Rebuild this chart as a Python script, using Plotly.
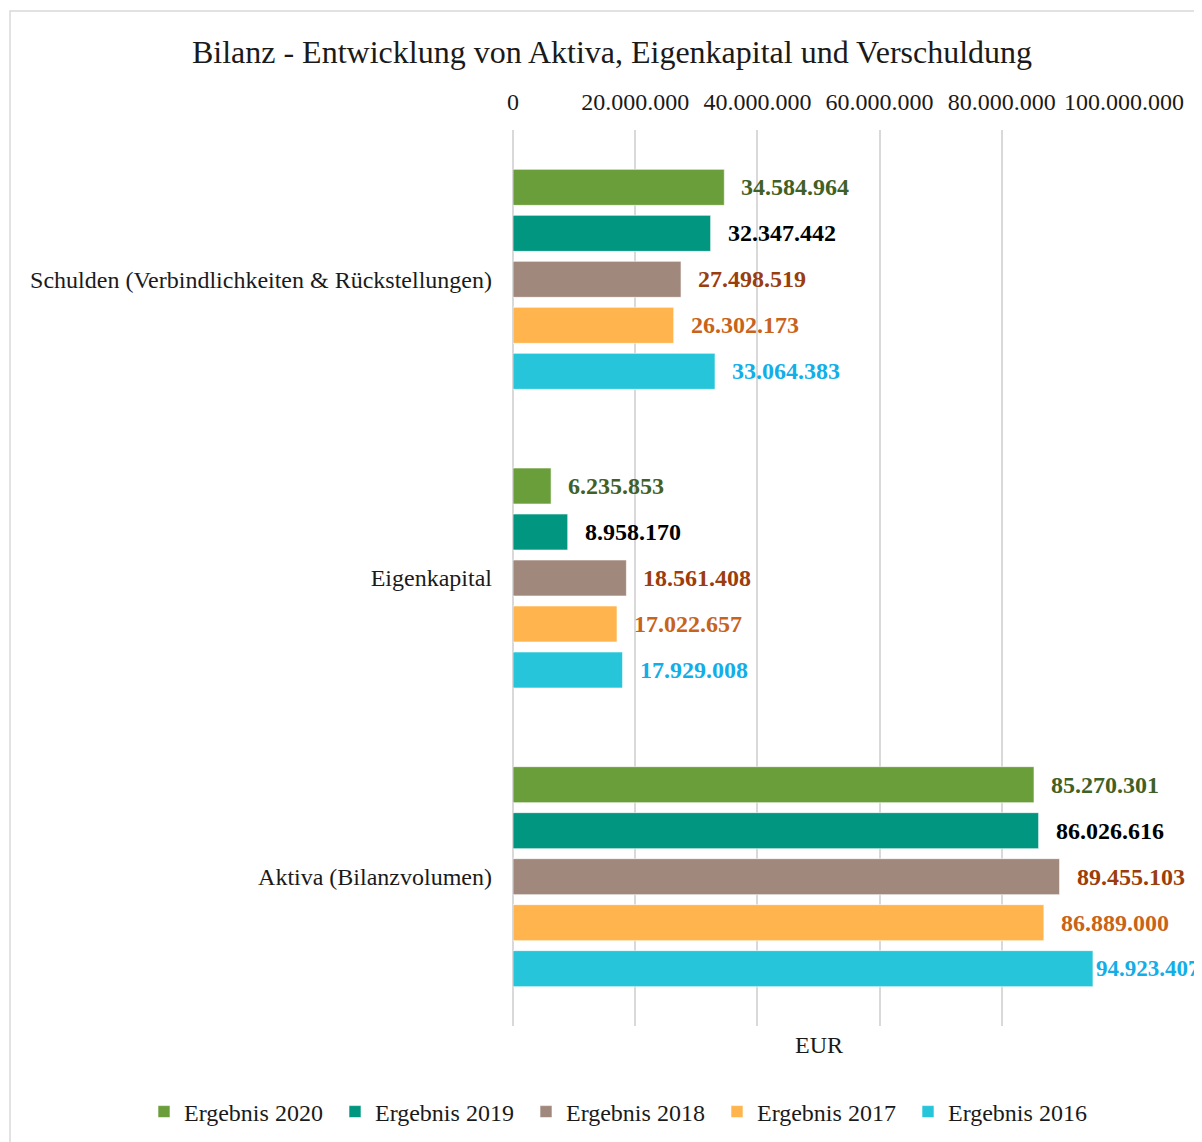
import plotly.graph_objects as go

categories = ["Schulden (Verbindlichkeiten & Rückstellungen)", "Eigenkapital", "Aktiva (Bilanzvolumen)"]
series_names = ["Ergebnis 2020", "Ergebnis 2019", "Ergebnis 2018", "Ergebnis 2017", "Ergebnis 2016"]
values_2020 = [34584964, 6235853, 85270301]
values_2019 = [32347442, 8958170, 86026616]
values_2018 = [27498519, 18561408, 89455103]
values_2017 = [26302173, 17022657, 86889000]
values_2016 = [33064383, 17929008, 94923407]
tick_vals = [0, 20000000, 40000000, 60000000, 80000000, 100000000]
tick_text = ["0", "20.000.000", "40.000.000", "60.000.000", "80.000.000", "100.000.000"]

series_values = [values_2020, values_2019, values_2018, values_2017, values_2016]
bar_colors = ["#6a9e3a", "#00967f", "#a1887c", "#ffb44d", "#26c5d9"]
label_colors = ["#3f6128", "#000000", "#9b3d0c", "#c8631c", "#13aee8"]

FONT = "Liberation Serif, Times New Roman, serif"
X_MAX = 100000000

# page has an 8px body margin; figure sized so it sits inside the 1202x1142 window
W, H = 1194, 1134
L, R, T, B = 505, 78, 122, 116
PW, PH = W - L - R, H - T - B


def fmt(v):
    return f"{v:,}".replace(",", ".")


fig = go.Figure()
for name, vals, col in zip(series_names, series_values, bar_colors):
    fig.add_trace(go.Bar(
        y=categories, x=vals, name=name, orientation="h",
        marker=dict(color=col, line=dict(color="rgba(255,255,255,0.6)", width=1)),
    ))

annotations = []
n = len(series_names)
bargap = 0.23
for i, (vals, lc) in enumerate(zip(series_values, label_colors)):
    for j, v in enumerate(vals):
        slot = (1 - bargap) / n
        offset = -(1 - bargap) / 2 + slot * (i + 0.5)
        near_edge = v / X_MAX > 0.93
        annotations.append(dict(
            x=v, y=j + offset, xref="x", yref="y", text=f"<b>{fmt(v)}</b>",
            showarrow=False, xanchor="left", yanchor="middle", xshift=1 if near_edge else 15,
            font=dict(family=FONT, size=23 if near_edge else 24, color=lc),
        ))

annotations.append(dict(
    x=0.5, y=-19 / PH, xref="paper", yref="paper", text="EUR", showarrow=False,
    xanchor="center", yanchor="middle", font=dict(family=FONT, size=24, color="#1a1a1a"),
))

fig.update_layout(
    width=W, height=H,
    margin=dict(l=L, r=R, t=T, b=B, autoexpand=False),
    paper_bgcolor="white", plot_bgcolor="white",
    barmode="group", bargap=bargap, bargroupgap=0.217,
    title=dict(text="Bilanz - Entwicklung von Aktiva, Eigenkapital und Verschuldung",
               x=(612 - 8) / W, xanchor="center", y=1 - (52 - 8) / H, yanchor="middle",
               font=dict(family=FONT, size=32, color="#1a1a1a")),
    font=dict(family=FONT, size=24, color="#1a1a1a"),
    xaxis=dict(range=[0, X_MAX], side="top", tickvals=tick_vals, ticktext=tick_text,
               showgrid=True, gridcolor="#d9d9d9", gridwidth=1.5,
               zeroline=True, zerolinecolor="#d9d9d9", zerolinewidth=1.5,
               showline=False, ticks="", ticklabelstandoff=14,
               tickfont=dict(family=FONT, size=24, color="#1a1a1a")),
    yaxis=dict(autorange="reversed", showgrid=False, zeroline=False, showline=False,
               ticks="", ticklabelstandoff=20,
               tickfont=dict(family=FONT, size=24, color="#1a1a1a")),
    legend=dict(orientation="h", xref="paper", x=(144 - 513) / PW, xanchor="left",
                yref="paper", y=-86 / PH, yanchor="middle",
                entrywidth=146, entrywidthmode="pixels", itemwidth=30,
                font=dict(family=FONT, size=24, color="#1a1a1a")),
    annotations=annotations,
    shapes=[dict(type="rect", xref="paper", yref="paper",
                 x0=(10 - 513) / PW, x1=(1230 - 513) / PW,
                 y0=-(1170 - 1026) / PH, y1=1 + (130 - 11) / PH,
                 line=dict(color="#d9d9d9", width=1.5), fillcolor="rgba(0,0,0,0)", layer="below")],
)

fig.write_html("out.html")
